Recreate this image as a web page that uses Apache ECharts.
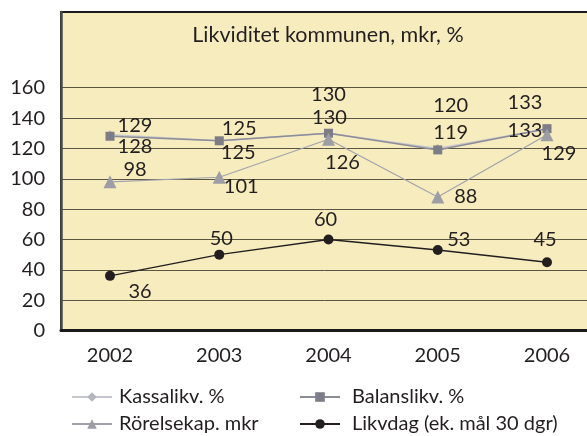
<!DOCTYPE html>
<html>
<head>
<meta charset="utf-8">
<script src="https://cdn.jsdelivr.net/npm/echarts@6/dist/echarts.min.js"></script>
<style>
  html, body { margin:0; padding:0; background:#fff; }
  #likvChart { width:587px; height:436px; }
</style>
</head>
<body>
<div id="likvChart"></div>
<script>
var years = ['2002', '2003', '2004', '2005', '2006'];
var kassalikv = [129, 125, 130, 120, 133];
var balanslikv = [128, 125, 130, 119, 133];
var rorelsekap = [98, 101, 126, 88, 129];
var likvdag = [36, 50, 60, 53, 45];
var yMin = 0, yMax = 160, yStep = 20;

// hand placed label offsets (px), the original has its labels moved around
var kassaOff = [[25, -9], [20, -12], [0, -39], [13, -43], [-22, -26]];
var balansOff = [[25, 10], [19, 12], [1, -16], [13, -17], [-22, 2]];
var rorelseOff = [[25, -12], [22, 9], [14, 23], [28, 0], [12, 19]];
var likvOff = [[30, 16], [2, -16], [-3, -20], [21, -11], [-2, -23]];

var font = 'Lato';
var ink = '#231f20';

function withLabels(values, offs) {
  return values.map(function (v, i) {
    return { value: v, label: { offset: offs[i] } };
  });
}

var labelStyle = {
  show: true,
  position: 'inside',
  align: 'center',
  verticalAlign: 'middle',
  fontFamily: font,
  fontSize: 20,
  color: ink,
  textBorderWidth: 0
};

function lineSeries(name, values, offs, symbol, size, markColor, lineColor, lineWidth) {
  return {
    name: name,
    type: 'line',
    xAxisIndex: 2,
    yAxisIndex: 2,
    data: withLabels(values, offs),
    symbol: symbol,
    symbolSize: size,
    itemStyle: { color: markColor },
    lineStyle: { color: lineColor, width: lineWidth },
    label: labelStyle,
    emphasis: { disabled: true }
  };
}

var legendText = { fontFamily: font, fontSize: 20, color: ink, lineHeight: 20 };

var option = {
  animation: false,
  backgroundColor: '#fff',
  title: {
    text: 'Likviditet kommunen, mkr, %',
    left: 328,
    top: 24,
    textAlign: 'center',
    padding: 0,
    textStyle: { fontFamily: font, fontSize: 21.5, fontWeight: 'normal', color: ink }
  },
  grid: [
    { left: 61, top: 12, right: -20, bottom: 105.5, show: true, backgroundColor: '#f7ecbe',
      borderColor: '#1a1a1a', borderWidth: 2, outerBoundsMode: 'none' },
    { left: 61, top: 87.7, right: -20, bottom: 105.5, outerBoundsMode: 'none' },
    { left: 110, top: 87.7, right: 40, bottom: 105.5, outerBoundsMode: 'none' }
  ],
  xAxis: [
    { gridIndex: 0, type: 'value', min: 0, max: 1, position: 'bottom',
      axisLine: { show: true, onZero: false, lineStyle: { color: '#1a1a1a', width: 3 } },
      axisTick: { show: false }, axisLabel: { show: false }, splitLine: { show: false } },
    { gridIndex: 1, type: 'value', min: 0, max: 1, show: false },
    { gridIndex: 2, type: 'category', data: years, boundaryGap: false,
      axisLine: { show: false }, axisTick: { show: false }, splitLine: { show: false },
      axisLabel: { margin: 15, fontFamily: font, fontSize: 20, color: ink } }
  ],
  yAxis: [
    { gridIndex: 0, type: 'value', min: 0, max: 1,
      axisLine: { show: true, onZero: false, lineStyle: { color: '#4a4a4a', width: 2.5 } },
      axisTick: { show: false }, axisLabel: { show: false }, splitLine: { show: false } },
    { gridIndex: 1, type: 'value', min: yMin, max: yMax, interval: yStep,
      axisLine: { show: false }, axisTick: { show: false },
      axisLabel: { margin: 16, fontFamily: font, fontSize: 20, color: ink },
      splitLine: { show: true, lineStyle: { color: '#5c5542', width: 1 } } },
    { gridIndex: 2, type: 'value', min: yMin, max: yMax, show: false }
  ],
  legend: [
    { orient: 'vertical', left: 71, top: 387, padding: 0, itemWidth: 40, itemHeight: 12, itemGap: 7,
      data: ['Kassalikv. %', 'Rörelsekap. mkr'],
      textStyle: Object.assign({ padding: [0, 0, 0, 2] }, legendText) },
    { orient: 'vertical', left: 299, top: 387, padding: 0, itemWidth: 40, itemHeight: 12, itemGap: 7,
      data: ['Balanslikv. %', 'Likvdag (ek. mål 30 dgr)'],
      textStyle: Object.assign({ padding: [0, 0, 0, 7] }, legendText) }
  ],
  series: [
    lineSeries('Kassalikv. %', kassalikv, kassaOff, 'diamond', 9, '#b4b4bc', '#c6c6ce', 1.5),
    lineSeries('Balanslikv. %', balanslikv, balansOff, 'rect', 9, '#7d7d87', '#8d8d99', 1.5),
    lineSeries('Rörelsekap. mkr', rorelsekap, rorelseOff, 'triangle', 13, '#9d9da5', '#a2a2ac', 1.2),
    lineSeries('Likvdag (ek. mål 30 dgr)', likvdag, likvOff, 'circle', 10, ink, ink, 1.5)
  ]
};

var likvChart = echarts.init(document.getElementById('likvChart'));
likvChart.setOption(option);
</script>
</body>
</html>
